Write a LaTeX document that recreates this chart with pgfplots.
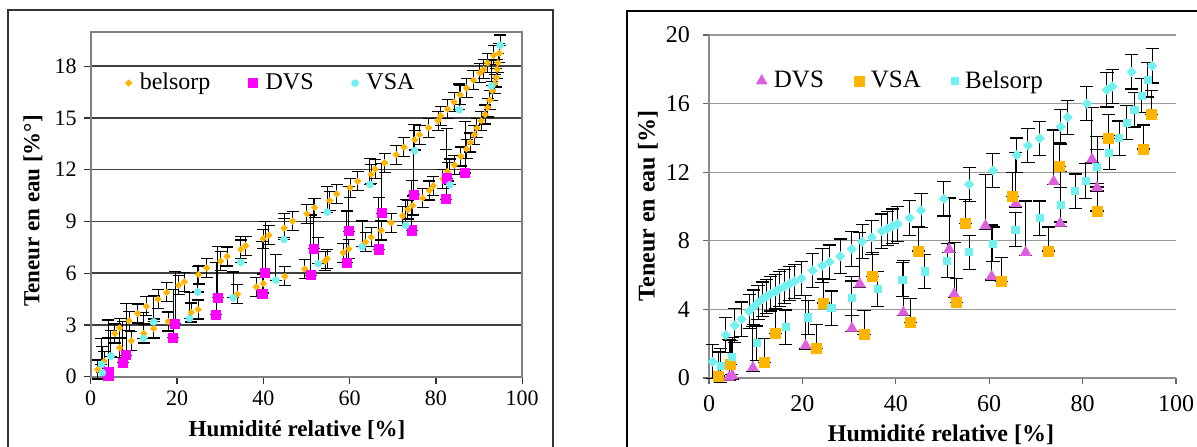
\documentclass[border=0pt]{standalone}
\usepackage{fontspec}
\setmainfont{Liberation Serif}
\usepackage{pgfplots}
\pgfplotsset{compat=1.18}
\definecolor{orgL}{RGB}{255,180,0}
\definecolor{magL}{RGB}{255,0,255}
\definecolor{cyL}{RGB}{115,240,240}
\definecolor{dvsR}{RGB}{222,95,222}
\pgfplotsset{
  ebp/.style={error bars/.cd, y dir=both, y explicit,
    error bar style={black, line width=0.5pt},
    error mark options={black, rotate=90, mark size=#1, line width=0.6pt},
    /pgfplots/.cd},
  ebp/.default=3pt
}
\pgfplotstableread{
x y ep em
1.6 0.42 0.55 0.55
3.1 0.9 0.55 0.55
5.6 2.5 0.55 0.55
6.7 2.83 0.55 0.55
8.9 3.24 0.55 0.55
10.9 3.66 0.55 0.55
12.9 4.08 0.55 0.55
15.6 4.49 0.55 0.55
17.6 4.89 0.55 0.55
20.4 5.3 0.55 0.55
21.7 5.5 0.55 0.55
25.0 5.92 0.55 0.55
26.9 6.3 0.55 0.55
30.1 6.7 0.55 0.55
31.6 6.97 0.55 0.55
34.8 7.38 0.55 0.55
35.9 7.59 0.55 0.55
40.0 8.0 0.55 0.55
41.3 8.2 0.55 0.55
44.8 8.61 0.55 0.55
46.8 9.02 0.55 0.55
50.1 9.44 0.55 0.55
51.9 9.8 0.55 0.55
55.4 10.2 0.55 0.55
57.0 10.6 0.55 0.55
60.1 10.96 0.55 0.55
61.9 11.33 0.55 0.55
65.0 11.73 0.55 0.55
65.9 12.04 0.55 0.55
68.1 12.4 0.55 0.55
70.8 12.87 0.55 0.55
72.6 13.3 0.55 0.55
75.1 13.74 0.55 0.55
76.2 14.03 0.55 0.55
78.3 14.43 0.55 0.55
80.5 14.84 0.55 0.55
81.1 15.13 0.55 0.55
82.7 15.51 0.55 0.55
84.2 15.93 0.55 0.55
85.6 16.34 0.55 0.55
87.1 16.74 0.55 0.55
88.7 17.19 0.55 0.55
90.2 17.61 0.55 0.55
91.1 17.82 0.55 0.55
92.0 18.19 0.55 0.55
93.4 18.63 0.55 0.55
94.7 18.75 0.55 0.55
6.7 1.68 0.55 0.55
9.4 2.08 0.55 0.55
12.3 2.5 0.55 0.55
14.6 2.79 0.55 0.55
18.0 3.2 0.55 0.55
23.3 3.72 0.55 0.55
24.9 3.9 0.55 0.55
34.0 4.78 0.55 0.55
38.4 5.2 0.55 0.55
40.0 5.4 0.55 0.55
45.0 5.82 0.55 0.55
49.6 6.24 0.55 0.55
54.3 6.7 0.55 0.55
54.8 6.84 0.55 0.55
58.5 7.19 0.55 0.55
59.8 7.4 0.55 0.55
63.7 7.8 0.55 0.55
65.0 8.09 0.55 0.55
67.3 8.48 0.55 0.55
69.6 8.92 0.55 0.55
72.3 9.33 0.55 0.55
73.5 9.69 0.55 0.55
74.6 9.92 0.55 0.55
76.9 10.35 0.55 0.55
78.5 10.79 0.55 0.55
79.4 11.06 0.55 0.55
81.6 11.46 0.55 0.55
82.7 11.89 0.55 0.55
84.3 12.27 0.55 0.55
85.8 12.77 0.55 0.55
87.1 13.2 0.55 0.55
88.0 13.58 0.55 0.55
88.9 14.03 0.55 0.55
89.5 14.41 0.55 0.55
90.5 14.84 0.55 0.55
91.4 15.2 0.55 0.55
92.0 15.6 0.55 0.55
92.5 16.03 0.55 0.55
93.1 16.57 0.55 0.55
93.6 16.99 0.55 0.55
94.0 17.34 0.55 0.55
94.2 17.82 0.55 0.55
94.4 18.2 0.55 0.55
}\leftBel
\pgfplotstableread{
x y ep em
4.1 0.04 2.2 0
4.1 0.29 3.0 0
7.4 0.81 2.4 0
8.2 1.25 3.0 0
19.1 2.27 2.8 0
19.6 3.08 3.0 0
29.1 3.6 3.0 0
29.5 4.57 3.0 0
39.8 4.82 3.0 0
40.4 6.01 3.0 0
51.0 5.88 3.5 0
51.7 7.42 2.9 0
59.3 6.61 3.0 0
59.8 8.44 2.6 0
66.8 7.38 3.0 0
67.4 9.48 2.9 0
74.4 8.48 2.9 0
74.9 10.54 4.1 0
82.4 10.29 2.9 0
82.5 11.5 2.9 0
86.8 11.81 3.0 0
}\leftDVS
\pgfplotstableread{
x y ep em
2.7 0.23 1.5 0
2.5 0.71 1.5 0
4.7 1.19 1.5 0
12.2 2.22 1.5 0
14.6 3.18 1.5 0
22.9 3.37 1.5 0
24.8 4.91 1.5 0
33.0 4.57 1.5 0
34.8 6.63 1.5 0
42.9 5.59 1.5 0
44.8 7.96 1.5 0
52.7 6.55 1.5 0
54.8 9.54 1.5 0
62.9 7.53 1.5 0
64.7 11.14 1.5 0
73.0 8.77 1.5 0
75.1 13.1 1.5 0
83.2 11.12 1.5 0
85.4 15.47 1.5 0
92.9 16.86 1.5 0
94.9 19.21 0.6 0
}\leftVSA
\pgfplotstableread{
x y ep em
4.3 0.04 2.2 0.2
5.0 0.14 2.2 0.2
9.4 0.6 2.4 0.2
20.7 1.89 2.9 0.2
30.6 2.9 3.0 0.2
32.3 5.48 3.0 0.2
41.6 3.83 3.0 0.2
51.4 7.5 3.0 0.2
52.5 4.9 3.0 0.2
59.2 8.88 3.0 0.2
60.5 5.92 3.0 0.2
65.7 10.17 3.0 0.2
67.8 7.32 3.0 0.2
73.8 11.46 3.0 0.2
75.2 9.02 3.0 0.2
82.0 12.75 3.0 0.2
83.1 11.1 3.0 0.2
}\rightDVS
\pgfplotstableread{
x y ep em
2.0 0.12 1.4 0
4.5 0.79 1.4 0
11.9 0.89 1.4 0
14.2 2.61 1.4 0
23.0 1.7 1.4 0
24.6 4.37 1.4 0
33.2 2.54 1.4 0
35.0 5.92 1.4 0
43.1 3.22 1.4 0
44.9 7.4 1.4 0
53.0 4.4 1.4 0
54.9 8.99 1.4 0
62.7 5.65 1.4 0
64.9 10.57 1.4 0
72.7 7.4 1.4 0
75.0 12.32 1.4 0
83.1 9.74 1.4 0
85.6 13.95 1.4 0
93.1 13.35 1.4 0
94.8 15.37 1.4 0
}\rightVSA
\pgfplotstableread{
x y ep em
2.5 0.72 1 1
4.9 1.21 1 1
10.2 2.03 1 1
16.4 2.96 1 1
21.2 3.53 1 1
26.2 4.07 1 1
30.6 4.66 1 1
36.1 5.19 1 1
41.4 5.73 1 1
46.2 6.22 1 1
51.0 6.84 1 1
55.7 7.33 1 1
60.8 7.81 1 1
65.6 8.65 1 1
70.8 9.32 1 1
75.3 10.1 1 1
78.4 10.9 1 1
80.7 11.49 1 1
83.1 12.32 1 1
85.7 13.14 1 1
87.8 13.98 1 1
89.4 14.89 1 1
91.1 15.63 1 1
92.7 16.46 1 1
93.9 17.38 1 1
}\rightBelA
\pgfplotstableread{
x y ep em
0.8 0.95 1 1
3.6 2.51 1 1
5.5 3.06 1 1
7.0 3.43 1 1
8.6 3.88 1 1
9.45 4.13 1 1
10.5 4.4 1 1
11.4 4.6 1 1
12.3 4.75 1 1
13.2 4.91 1 1
14.3 5.05 1 1
15.1 5.19 1 1
16.2 5.34 1 1
17.3 5.5 1 1
18.3 5.63 1 1
19.8 5.81 1 1
22.2 6.27 1 1
24.2 6.55 1 1
25.8 6.76 1 1
28.1 7.1 1 1
30.6 7.52 1 1
32.8 7.95 1 1
34.9 8.2 1 1
37.0 8.56 1 1
38.2 8.71 1 1
39.3 8.85 1 1
40.4 8.98 1 1
43.0 9.33 1 1
45.4 9.77 1 1
50.3 10.45 1 1
55.7 11.29 1 1
60.8 12.1 1 1
65.9 13.0 1 1
68.3 13.55 1 1
70.8 13.97 1 1
75.3 14.65 1 1
76.8 15.2 1 1
80.9 16.0 1 1
85.2 16.8 1 1
86.4 17.0 1 1
90.5 17.85 1 1
94.9 18.2 1 1
}\rightBelD
\begin{document}
\begin{tikzpicture}[x=0.5pt,y=0.5pt]
\useasboundingbox (0,0) rectangle (1197,446);
\clip (0,0) rectangle (1197,446);
% chart frames
\draw[black!80, line width=0.9pt] (8,436) rectangle (553,-20);
\draw[black, line width=1.3pt] (627,435) rectangle (1220,-20);
% ---------------- left chart
\begin{axis}[
  at={(45.35pt,34.65pt)}, anchor=south west,
  scale only axis, width=215.75pt, height=172.5pt,
  xmin=0, xmax=100, ymin=0, ymax=20,
  xtick={0,20,...,100}, ytick={0,3,...,18},
  tick align=outside, tick pos=left, major tick length=3.5pt,
  tick style={black!80, line width=0.6pt},
  ymajorgrids, major grid style={black!75, line width=0.75pt},
  axis line style={black!50, line width=0.9pt},
  ticklabel style={font=\fontsize{11}{13}\selectfont},
  /pgf/number format/assume math mode=true,
  clip=false,
  legend columns=3,
  legend style={draw=none, fill=none, at={(0.066,0.851)}, anchor=west,
    font=\fontsize{12}{14}\selectfont,
    /tikz/every even column/.append style={column sep=17pt}},
]
\addplot[only marks, mark=square*, mark size=1.1pt, mark options={rotate=45, fill=orgL, draw=orgL}, ebp]
  table[x=x, y=y, y error plus=ep, y error minus=em] {\leftBel};
\addlegendentry{\hspace{2pt}belsorp}
\addplot[only marks, mark=square*, mark size=2.3pt, mark options={fill=magL, draw=magL}, ebp]
  table[x=x, y=y, y error plus=ep, y error minus=em] {\leftDVS};
\addlegendentry{\hspace{2pt}DVS}
\addplot[only marks, mark=*, mark size=1.7pt, mark options={fill=cyL, draw=cyL}, ebp]
  table[x=x, y=y, y error plus=ep, y error minus=em] {\leftVSA};
\addlegendentry{\hspace{2pt}VSA}
\end{axis}
\node[rotate=90, font=\bfseries\fontsize{11.5}{13}\selectfont] at (33,235) {Teneur en eau [\%°]};
\node[font=\bfseries\fontsize{11.5}{13}\selectfont] at (297,16) {Humidité relative [\%]};
% ---------------- right chart
\begin{axis}[
  at={(354.5pt,34pt)}, anchor=south west,
  scale only axis, width=233.5pt, height=171.5pt,
  xmin=0, xmax=100, ymin=0, ymax=20,
  xtick={0,20,...,100}, ytick={0,4,...,20},
  axis x line*=bottom, axis y line*=left,
  axis line style={-, black!45, line width=0.8pt},
  tick align=outside, major tick length=3pt,
  tick style={black!60, line width=0.6pt},
  ymajorgrids, major grid style={black!40, line width=0.6pt},
  ticklabel style={font=\fontsize{12}{14}\selectfont},
  yticklabel style={xshift=-3pt},
  xticklabel style={yshift=-2pt},
  /pgf/number format/assume math mode=true,
  clip=false,
  legend columns=3,
  legend style={draw=none, fill=none, at={(0.088,0.866)}, anchor=west,
    font=\fontsize{12.5}{14}\selectfont,
    /tikz/every even column/.append style={column sep=13pt}},
]
\addplot[only marks, mark=triangle*, mark size=3pt, mark options={fill=dvsR, draw=dvsR}, ebp=3.3pt]
  table[x=x, y=y, y error plus=ep, y error minus=em] {\rightDVS};
\addlegendentry{\hspace{1.5pt}DVS}
\addplot[only marks, mark=square*, mark size=2.5pt, mark options={fill=orgL, draw=orgL}, ebp=3.3pt]
  table[x=x, y=y, y error plus=ep, y error minus=em] {\rightVSA};
\addlegendentry{\hspace{1.5pt}VSA}
\addplot[only marks, mark=square*, mark size=1.8pt, mark options={fill=cyL, draw=cyL}, ebp=3.3pt]
  table[x=x, y=y, y error plus=ep, y error minus=em] {\rightBelA};
\addlegendentry{\hspace{1.5pt}Belsorp}
\addplot[forget plot, only marks, mark=square*, mark size=1.6pt, mark options={rotate=45, fill=cyL, draw=cyL}, ebp=3.3pt]
  table[x=x, y=y, y error plus=ep, y error minus=em] {\rightBelD};
\end{axis}
\node[rotate=90, font=\bfseries\fontsize{12}{14}\selectfont] at (648,240) {Teneur en eau [\%]};
\node[font=\bfseries\fontsize{12}{14}\selectfont] at (941,11) {Humidité relative [\%]};
\end{tikzpicture}
\end{document}
